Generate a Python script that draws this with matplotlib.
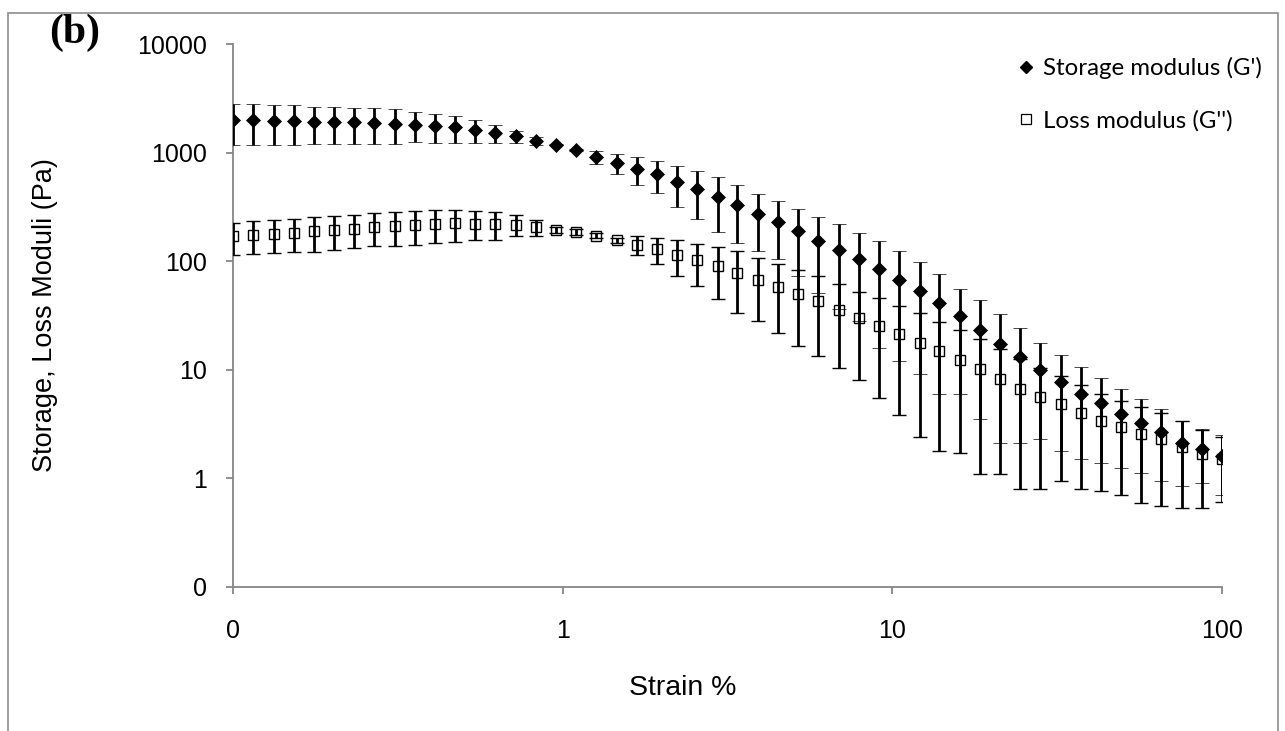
import matplotlib
matplotlib.use("Agg")
import matplotlib.pyplot as plt
from matplotlib.lines import Line2D
from matplotlib.patches import Rectangle
from matplotlib.ticker import FixedLocator, FixedFormatter, NullLocator

# Strain sweep (%), 50 points from 0.1 to 100 %
strain = [0.100, 0.115, 0.133, 0.153, 0.176, 0.202, 0.233, 0.268, 0.309, 0.356,
          0.410, 0.472, 0.543, 0.625, 0.720, 0.829, 0.954, 1.10, 1.26, 1.46,
          1.68, 1.93, 2.22, 2.56, 2.95, 3.39, 3.91, 4.50, 5.18, 5.96,
          6.87, 7.91, 9.10, 10.5, 12.1, 13.9, 16.0, 18.4, 21.2, 24.4,
          28.1, 32.4, 37.3, 42.9, 49.4, 56.9, 65.5, 75.4, 86.9, 100.0]

# Storage modulus G' (Pa) and its standard deviation
storage = [1990, 1980, 1970, 1960, 1930, 1920, 1900, 1880, 1850, 1810,
           1760, 1705, 1610, 1515, 1415, 1290, 1180, 1048, 910, 805,
           706, 630, 535, 460, 391, 327, 272, 230, 188, 153,
           128, 105, 85.5, 67.7, 53.7, 41.0, 31.0, 23.5, 17.3, 13.1,
           9.9, 7.7, 6.0, 4.9, 3.95, 3.25, 2.67, 2.13, 1.88, 1.60]
storage_err = [810, 800, 800, 790, 725, 720, 690, 690, 655, 570,
               527, 480, 377, 290, 180, 115, 15, 20, 118, 169,
               199, 205, 221, 217, 205, 180, 147, 126, 115, 102,
               92, 77, 69.5, 55.6, 44.5, 35.0, 25.0, 20.0, 15.2, 11.0,
               7.6, 5.9, 4.5, 3.5, 2.7, 2.13, 1.72, 1.28, 0.97, 0.90]

# Loss modulus G'' (Pa) and its standard deviation
loss = [170, 175, 178, 183, 188, 193, 198, 207, 211, 214,
        222, 224, 222, 221, 217, 205, 195, 186, 172, 156,
        142, 130, 115, 102, 89.5, 78, 67, 58, 49.5, 42.8,
        35.8, 30.0, 25.5, 21.3, 17.8, 14.8, 12.4, 10.1, 8.3, 6.7,
        5.6, 4.85, 4.0, 3.37, 2.95, 2.55, 2.30, 1.96, 1.66, 1.50]
loss_err = [55, 58, 60, 62, 66, 66, 67, 69, 72, 74,
            76, 75, 66, 63, 47, 36, 12, 10, 8, 8,
            28.5, 35, 42, 43.5, 45, 45, 39, 36, 33, 29.5,
            25.4, 22, 20, 17.5, 15.4, 13, 10.7, 9, 7.2, 5.9,
            4.8, 3.9, 3.2, 2.6, 2.24, 1.96, 1.74, 1.43, 1.13, 0.90]

x_ticks = [0.1, 1, 10, 100]
x_tick_labels = ["0", "1", "10", "100"]
y_ticks = [0.1, 1, 10, 100, 1000, 10000]
y_tick_labels = ["0", "1", "10", "100", "1000", "10000"]

series_labels = ["Storage modulus (G')", "Loss modulus (G'')"]

W, H = 1285, 731
AXIS_GREY = "#868686"
plt.rcParams["font.family"] = ["Liberation Sans", "DejaVu Sans"]

fig = plt.figure(figsize=(W / 100, H / 100), dpi=100)
fig.patch.set_facecolor("white")

# outer chart frame
fig.patches.append(Rectangle((8 / W, -0.05), (1278 - 8) / W, 1.05 - 13 / H,
                             transform=fig.transFigure, fill=False,
                             edgecolor="#8c8c8c", linewidth=1.2))

ax = fig.add_axes([233 / W, 1 - 587 / H, 989 / W, 543 / H])
ax.set_xscale("log")
ax.set_yscale("log")
ax.set_xlim(0.1, 100)
ax.set_ylim(0.1, 10000)

err_kw = dict(ecolor="black", elinewidth=2.0, capsize=5.0, capthick=2.2,
              linestyle="none")
ax.errorbar(strain, loss, yerr=loss_err, marker="s", markersize=7.4,
            markerfacecolor="none", markeredgecolor="black",
            markeredgewidth=1.0, zorder=3, **err_kw)
ax.errorbar(strain, storage, yerr=storage_err, marker="D", markersize=7.2,
            markerfacecolor="black", markeredgecolor="black",
            markeredgewidth=0.5, zorder=4, **err_kw)

for side in ("top", "right"):
    ax.spines[side].set_visible(False)
for side in ("left", "bottom"):
    ax.spines[side].set_color(AXIS_GREY)
    ax.spines[side].set_linewidth(1.3)

ax.xaxis.set_major_locator(FixedLocator(x_ticks))
ax.xaxis.set_major_formatter(FixedFormatter(x_tick_labels))
ax.xaxis.set_minor_locator(NullLocator())
ax.yaxis.set_major_locator(FixedLocator(y_ticks))
ax.yaxis.set_major_formatter(FixedFormatter(y_tick_labels))
ax.yaxis.set_minor_locator(NullLocator())
ax.tick_params(axis="x", direction="out", length=5, width=1.3,
               color=AXIS_GREY, labelsize=18, pad=18)
ax.tick_params(axis="y", direction="out", length=5, width=1.3,
               color=AXIS_GREY, labelsize=18, pad=14)

fig.text(45 / W, 1 - 315 / H, "Storage, Loss Moduli (Pa)", rotation=90,
         ha="center", va="center", fontsize=19.5)
fig.text(683 / W, 1 - 688 / H, "Strain %", ha="center", va="center",
         fontsize=20.5)
fig.text(75 / W, 1 - 33 / H, "(b)", ha="center", va="center", fontsize=30,
         fontweight="bold", family=["Liberation Serif", "DejaVu Serif"])

handles = [Line2D([], [], linestyle="none", marker="D", markersize=6,
                  markerfacecolor="black", markeredgecolor="black"),
           Line2D([], [], linestyle="none", marker="s", markersize=7,
                  markerfacecolor="none", markeredgecolor="black",
                  markeredgewidth=0.9)]
ax.legend(handles, series_labels, loc="upper left",
          bbox_to_anchor=(1019 / W, 1 - 57 / H),
          bbox_transform=fig.transFigure, frameon=False,
          prop={"family": ["Lato", "DejaVu Sans"], "size": 17.3},
          handlelength=0.6, handletextpad=0.4, labelspacing=1.3,
          borderaxespad=0, borderpad=0)

fig.savefig("out.png", dpi=100, facecolor="white")
